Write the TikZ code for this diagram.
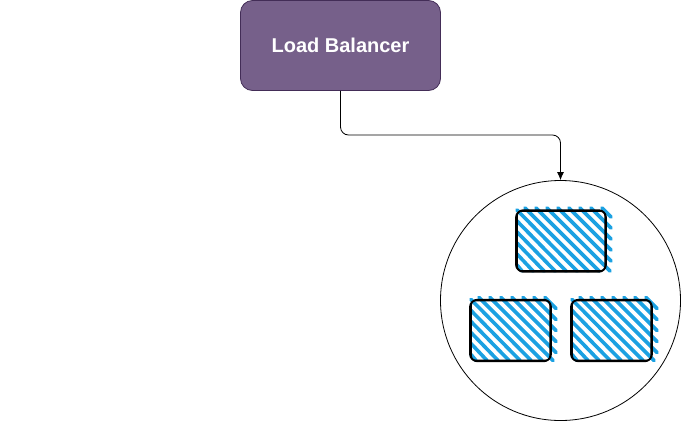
\documentclass[tikz,border=0pt]{standalone}
\usepackage{fontspec}
\setmainfont{Liberation Sans}
\usetikzlibrary{arrows.meta}
\tikzset{
	>={Latex[length=8pt,width=7pt]},
}
\definecolor{lbfill}{HTML}{76608A}
\definecolor{lbline}{HTML}{432D57}
\definecolor{hatchblue}{HTML}{1BA1E2}
\tikzstyle{balancer}=[draw=lbline,fill=lbfill,rounded corners=12pt,minimum width=200pt,minimum height=90pt,text=white,font=\fontsize{20}{24}\selectfont\bfseries,line width=.8pt]
\tikzstyle{cluster}=[draw,circle,minimum size=240pt,line width=.8pt,inner sep=0pt]
\tikzstyle{hatch}=[hatchblue,line width=3.6pt,line cap=round]
\tikzstyle{sketch}=[draw,rounded corners=6pt,line width=1.6pt,inner sep=0pt,outer sep=0pt]
% blue stripes first, then the rough outline on top
\newcommand{\hatchbox}[5]{
  \foreach \off in {-68,-57,...,110}{
    \pgfmathsetmacro\ax{max(\off,1)}
    \pgfmathsetmacro\ay{max(-\off,0)}
    \pgfmathsetmacro\bx{min(\off+#5+3,#4+5)}
    \pgfmathsetmacro\by{min(#4+5-\off,#5+3)}
    \ifdim\ax pt<\bx pt
      \draw[hatch] (#2+\ax,#3-3+\ay) -- (#2+\bx,#3-3+\by);
    \fi
  }
  \node[sketch,minimum width=#4 pt,minimum height=#5 pt] (#1) at (#2+#4/2,#3+#5/2) {};
  \draw[sketch] (#2+1,#3-.8) rectangle (#2+#4-.8,#3+#5+.8);
}

\begin{document}
\begin{tikzpicture}[x=1pt,y=-1pt]
      \useasboundingbox (0,0) rectangle (682,421);
      \node[balancer] (lb) at (340.5,45.5) {Load Balancer};
      \node[cluster] (pool) at (560.5,300.5) {};
      \coordinate (bend) at (pool.north |- 0,135);
      \draw[->,rounded corners=8pt,line width=.8pt] (lb.south) -- (lb.south |- bend) -- (bend) -- (pool.north);
      \hatchbox{box1}{516}{211}{90}{60}
      \hatchbox{box2}{470}{300.5}{81}{60}
      \hatchbox{box3}{571}{300.5}{81}{60}
    \end{tikzpicture}
\end{document}
